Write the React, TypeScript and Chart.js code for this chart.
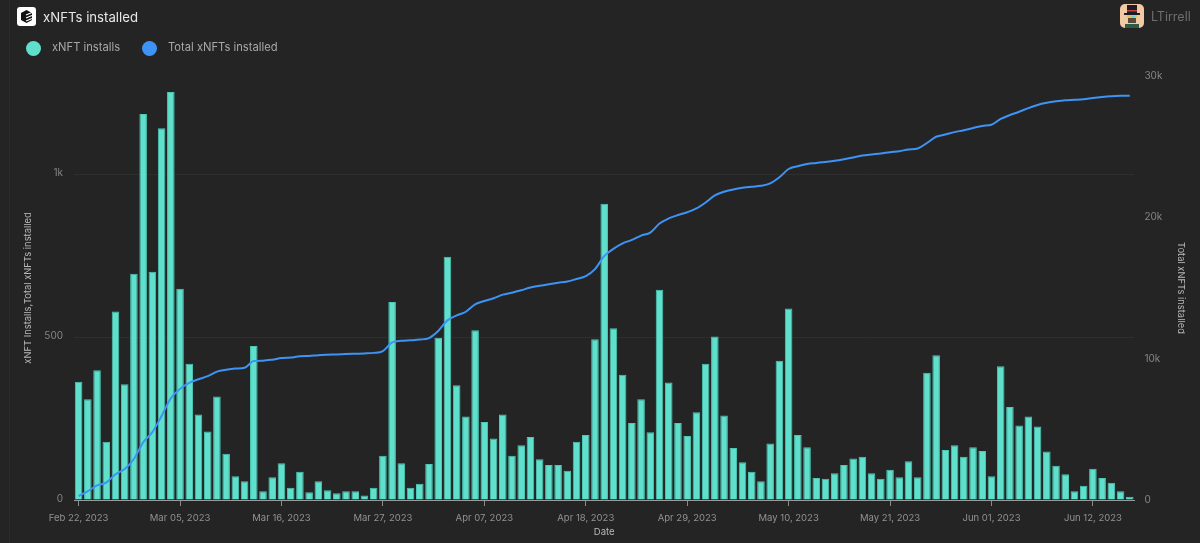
import React, { useEffect, useRef } from "react";
import { Chart, registerables } from "chart.js";

Chart.register(...registerables);

const dates = [
  "Feb 22, 2023", "Feb 23, 2023", "Feb 24, 2023", "Feb 25, 2023", "Feb 26, 2023", "Feb 27, 2023", "Feb 28, 2023",
  "Mar 01, 2023", "Mar 02, 2023", "Mar 03, 2023", "Mar 04, 2023", "Mar 05, 2023", "Mar 06, 2023", "Mar 07, 2023",
  "Mar 08, 2023", "Mar 09, 2023", "Mar 10, 2023", "Mar 11, 2023", "Mar 12, 2023", "Mar 13, 2023", "Mar 14, 2023",
  "Mar 15, 2023", "Mar 16, 2023", "Mar 17, 2023", "Mar 18, 2023", "Mar 19, 2023", "Mar 20, 2023", "Mar 21, 2023",
  "Mar 22, 2023", "Mar 23, 2023", "Mar 24, 2023", "Mar 25, 2023", "Mar 26, 2023", "Mar 27, 2023", "Mar 28, 2023",
  "Mar 29, 2023", "Mar 30, 2023", "Mar 31, 2023", "Apr 01, 2023", "Apr 02, 2023", "Apr 03, 2023", "Apr 04, 2023",
  "Apr 05, 2023", "Apr 06, 2023", "Apr 07, 2023", "Apr 08, 2023", "Apr 09, 2023", "Apr 10, 2023", "Apr 11, 2023",
  "Apr 12, 2023", "Apr 13, 2023", "Apr 14, 2023", "Apr 15, 2023", "Apr 16, 2023", "Apr 17, 2023", "Apr 18, 2023",
  "Apr 19, 2023", "Apr 20, 2023", "Apr 21, 2023", "Apr 22, 2023", "Apr 23, 2023", "Apr 24, 2023", "Apr 25, 2023",
  "Apr 26, 2023", "Apr 27, 2023", "Apr 28, 2023", "Apr 29, 2023", "Apr 30, 2023", "May 01, 2023", "May 02, 2023",
  "May 03, 2023", "May 04, 2023", "May 05, 2023", "May 06, 2023", "May 07, 2023", "May 08, 2023", "May 09, 2023",
  "May 10, 2023", "May 11, 2023", "May 12, 2023", "May 13, 2023", "May 14, 2023", "May 15, 2023", "May 16, 2023",
  "May 17, 2023", "May 18, 2023", "May 19, 2023", "May 20, 2023", "May 21, 2023", "May 22, 2023", "May 23, 2023",
  "May 24, 2023", "May 25, 2023", "May 26, 2023", "May 27, 2023", "May 28, 2023", "May 29, 2023", "May 30, 2023",
  "May 31, 2023", "Jun 01, 2023", "Jun 02, 2023", "Jun 03, 2023", "Jun 04, 2023", "Jun 05, 2023", "Jun 06, 2023",
  "Jun 07, 2023", "Jun 08, 2023", "Jun 09, 2023", "Jun 10, 2023", "Jun 11, 2023", "Jun 12, 2023", "Jun 13, 2023",
  "Jun 14, 2023", "Jun 15, 2023", "Jun 16, 2023",
];

const installs = [
  364, 310, 399, 179, 580, 356, 696, 1187, 702, 1143, 1255, 650, 419, 263, 211, 318, 142, 73, 58, 474,
  27, 70, 113, 38, 87, 24, 58, 30, 21, 27, 27, 14, 38, 136, 609, 113, 38, 50, 111, 499,
  748, 353, 257, 522, 240, 189, 263, 136, 168, 194, 125, 108, 108, 90, 179, 200, 494, 911, 528, 385,
  237, 310, 208, 647, 361, 237, 197, 270, 419, 503, 260, 160, 116, 87, 58, 174, 428, 589, 200, 162,
  68, 65, 82, 108, 128, 133, 82, 65, 93, 70, 119, 70, 391, 445, 154, 168, 133, 162, 151, 73,
  411, 286, 229, 257, 226, 149, 105, 79, 27, 44, 96, 68, 53, 27, 10,
];

const totalInstalled = [
  280, 620, 1030, 1230, 1820, 2190, 2900, 4080, 4800, 5950, 7200, 7860, 8280, 8540, 8760, 9080, 9220, 9300, 9360, 9830,
  9860, 9930, 10040, 10080, 10170, 10190, 10250, 10280, 10300, 10330, 10350, 10370, 10410, 10540, 11150, 11260, 11300, 11350, 11460, 11960,
  12710, 13060, 13320, 13840, 14080, 14270, 14530, 14670, 14840, 15030, 15160, 15270, 15370, 15460, 15640, 15840, 16340, 17250, 17770, 18160,
  18400, 18710, 18920, 19560, 19920, 20160, 20360, 20630, 21050, 21550, 21810, 21970, 22090, 22170, 22230, 22400, 22830, 23420, 23620, 23780,
  23850, 23920, 24000, 24110, 24240, 24370, 24450, 24520, 24610, 24680, 24800, 24870, 25260, 25700, 25860, 26030, 26160, 26320, 26470, 26550,
  26960, 27240, 27470, 27730, 27950, 28100, 28210, 28290, 28320, 28360, 28450, 28520, 28570, 28600, 28610,
];

const seriesNames = ["xNFT installs", "Total xNFTs installed"];
const seriesColors = ["#5fe0cc", "#3d94f6"];
const leftTicks = [0, 500, 1000];
const rightTicks = [0, 10000, 20000, 30000];

const FONT = "Inter, 'Noto Sans', sans-serif";
const TICK_COLOR = "#858585";
const TITLE_COLOR = "#b8b8b8";

const kFormat = (v: any) => (v >= 1000 ? v / 1000 + "k" : String(v));

const App: React.FC = () => {
  const chartRef = useRef<HTMLCanvasElement | null>(null);

  useEffect(() => {
    const canvas = chartRef.current;
    if (!canvas) return;

    const chart = new Chart(canvas, {
      type: "bar",
      data: {
        labels: dates,
        datasets: [
          {
            type: "line",
            label: seriesNames[1],
            data: totalInstalled,
            yAxisID: "y1",
            borderColor: seriesColors[1],
            borderWidth: 2,
            pointRadius: 0,
            cubicInterpolationMode: "monotone",
            order: 1,
          },
          {
            type: "bar",
            label: seriesNames[0],
            data: installs,
            yAxisID: "y",
            backgroundColor: seriesColors[0],
            borderColor: "#4cc8b5",
            borderWidth: 1,
            barPercentage: 0.82,
            categoryPercentage: 1,
            order: 2,
          },
        ],
      } as any,
      options: {
        responsive: false,
        animation: false,
        layout: { padding: { top: 76, left: 0, right: 0, bottom: 0 } },
        plugins: { legend: { display: false }, tooltip: { enabled: false } },
        scales: {
          x: {
            afterBuildTicks: (scale: any) => {
              scale.ticks = scale.ticks.filter((t: any) => t.value % 11 === 0);
            },
            afterFit: (scale: any) => {
              scale.height = 43;
            },
            ticks: {
              autoSkip: false,
              maxRotation: 0,
              padding: 6,
              color: "#929292",
              font: { family: FONT, size: 9.5 },
            },
            grid: {
              offset: false,
              drawOnChartArea: false,
              tickLength: 6,
              tickColor: "#8a8a8a",
            },
            border: { color: "#9a9a9a", width: 1 },
            title: {
              display: true,
              text: "Date",
              color: TITLE_COLOR,
              font: { family: FONT, size: 9.5 },
              padding: { top: 0, bottom: 5 },
            },
          },
          y: {
            position: "left",
            min: 0,
            max: 1304,
            afterBuildTicks: (scale: any) => {
              scale.ticks = leftTicks.map((value) => ({ value }));
            },
            afterFit: (scale: any) => {
              scale.width = 74;
            },
            ticks: {
              padding: 11,
              labelOffset: -1.5,
              color: TICK_COLOR,
              font: { family: FONT, size: 10 },
              callback: kFormat,
            },
            grid: { color: "#2e2e2e", drawTicks: false },
            border: { display: false },
            title: {
              display: true,
              text: "xNFT Installs,Total xNFTs installed",
              color: TITLE_COLOR,
              font: { family: FONT, size: 9.4 },
              padding: { top: 23, bottom: 0 },
            },
          },
          y1: {
            position: "right",
            min: 0,
            max: 30000,
            afterBuildTicks: (scale: any) => {
              scale.ticks = rightTicks.map((value) => ({ value }));
            },
            afterFit: (scale: any) => {
              scale.width = 65.6;
            },
            ticks: {
              padding: 10,
              color: TICK_COLOR,
              font: { family: FONT, size: 10 },
              callback: kFormat,
            },
            grid: { display: false, drawTicks: false },
            border: { display: false },
            title: {
              display: true,
              text: "Total xNFTs installed",
              color: TITLE_COLOR,
              font: { family: FONT, size: 9.4 },
              padding: { top: 14, bottom: 0 },
            },
          },
        },
      } as any,
    });

    return () => chart.destroy();
  }, []);

  return (
    <div style={{ position: "fixed", left: 0, top: 0, width: 1200, height: 543, background: "#242424", overflow: "hidden", fontFamily: FONT }}>
      <div style={{ position: "absolute", left: 9, top: 0, width: 1, height: 543, background: "#2b2b2b" }} />
      <canvas ref={chartRef} width={1200} height={543} style={{ position: "absolute", left: 0, top: 0 }} />

      {/* header */}
      <svg width="19" height="19" viewBox="0 0 19 19" style={{ position: "absolute", left: 17, top: 7 }}>
        <rect width="19" height="19" rx="3" fill="#fff" />
        <path d="M9.5 3 L15 6 V13 L9.5 16 L4 13 V6 Z" fill="#111" />
        <path d="M9 8 L15 5.5 M9 11 L15 8.5 M9 14 L15 11.5" stroke="#fff" strokeWidth="1.2" />
      </svg>
      <div style={{ position: "absolute", left: 43, top: 8, fontSize: 13.2, lineHeight: "18px", color: "#e8e8e8" }}>xNFTs installed</div>

      <svg width="24" height="24" viewBox="0 0 24 24" style={{ position: "absolute", left: 1120, top: 4 }}>
        <rect width="24" height="24" rx="5" fill="#f2c9a5" />
        <rect x="7" y="1" width="10" height="8" fill="#1b1b2a" />
        <rect x="7" y="6" width="10" height="1.5" fill="#c9403a" />
        <rect x="4" y="9" width="16" height="2" fill="#1b1b2a" />
        <rect x="7" y="11" width="10" height="3" fill="#e6c34a" />
        <rect x="11" y="12" width="4" height="2" fill="#6fd0d8" />
        <rect x="8" y="14" width="8" height="5" fill="#5a4a3a" />
        <rect x="5" y="20" width="14" height="4" fill="#2f5a48" />
      </svg>
      <div style={{ position: "absolute", left: 1151, top: 8, fontSize: 12.5, lineHeight: "18px", color: "#6e6e6e" }}>LTirrell</div>

      {/* legend */}
      {seriesNames.map((name, i) => (
        <React.Fragment key={name}>
          <div style={{ position: "absolute", left: [26, 142][i], top: 41, width: 15, height: 15, borderRadius: "50%", background: seriesColors[i] }} />
          <div style={{ position: "absolute", left: [52, 168][i], top: 40, fontSize: 11.2, lineHeight: "15px", color: "#a8a8a8", whiteSpace: "nowrap" }}>{name}</div>
        </React.Fragment>
      ))}
    </div>
  );
};

export default App;
